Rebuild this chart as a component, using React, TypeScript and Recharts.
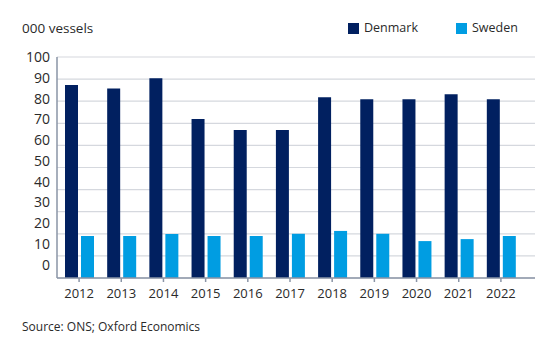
import { BarChart, Bar, XAxis, YAxis, CartesianGrid } from 'recharts';

const years = ['2012', '2013', '2014', '2015', '2016', '2017', '2018', '2019', '2020', '2021', '2022'];
const denmark = [87.3, 85.8, 90.4, 71.9, 67, 67, 81.8, 80.9, 80.9, 83.1, 80.9];
const sweden = [19, 19, 19.9, 19, 19, 20, 21.3, 20, 16.7, 17.6, 19];
const yTicks = [0, 10, 20, 30, 40, 50, 60, 70, 80, 90, 100];

const DENMARK_COLOR = '#012060';
const SWEDEN_COLOR = '#009de2';
const AXIS_COLOR = '#8a94a6';
const GRID_COLOR = '#d5d8de';
const TEXT_COLOR = '#2a2a2a';
const FONT = '"Open Sans", "Noto Sans", sans-serif';

const series = [
  { key: 'Denmark', color: DENMARK_COLOR },
  { key: 'Sweden', color: SWEDEN_COLOR },
];

const data = years.map((year, i) => ({ year, Denmark: denmark[i], Sweden: sweden[i] }));

const PLOT_TOP = 57;

// labels in the original sit slightly above their gridlines, more so toward the bottom
function YTick({ x, y, payload }: any) {
  const shifted = PLOT_TOP + (y - PLOT_TOP) * 0.94;
  return (
    <text x={x + 1} y={shifted} dy={5} textAnchor="end" fill={TEXT_COLOR} fontSize={14} fontFamily={FONT}>
      {payload.value}
    </text>
  );
}

function XTick({ x, y, payload }: any) {
  return (
    <text x={x} y={y} dy={14} textAnchor="middle" fill={TEXT_COLOR} fontSize={13} fontFamily={FONT}>
      {payload.value}
    </text>
  );
}

export default function App() {
  return (
    <div style={{ position: 'absolute', left: 0, top: 0, width: 555, height: 357, background: '#fff', fontFamily: FONT }}>
      <div style={{ position: 'absolute', left: 22, top: 19, fontSize: 13.5, color: TEXT_COLOR }}>000 vessels</div>
      <div style={{ position: 'absolute', left: 348, top: 19, display: 'flex', fontSize: 12.5, lineHeight: '18px', color: TEXT_COLOR }}>
        {series.map((s) => (
          <div key={s.key} style={{ display: 'flex', alignItems: 'center', marginRight: s.key === 'Denmark' ? 38 : 0 }}>
            <span style={{ width: 11, height: 11, background: s.color, display: 'inline-block', marginRight: 5 }} />
            {s.key}
          </div>
        ))}
      </div>
      <BarChart
        width={555}
        height={357}
        data={data}
        margin={{ top: PLOT_TOP, right: 20, bottom: 49, left: 0 }}
        barGap={3}
        barSize={13}
      >
        <CartesianGrid vertical={false} stroke={GRID_COLOR} strokeWidth={1.2} />
        <XAxis
          dataKey="year"
          height={30}
          padding={{ left: 1, right: 13 }}
          stroke={AXIS_COLOR}
          strokeWidth={1.5}
          tickSize={4}
          tickLine={{ stroke: AXIS_COLOR }}
          tick={<XTick />}
          interval={0}
        />
        <YAxis
          width={57}
          domain={[0, 100]}
          ticks={yTicks}
          stroke={AXIS_COLOR}
          strokeWidth={1.5}
          tickLine={false}
          tick={<YTick />}
          interval={0}
        />
        {series.map((s) => (
          <Bar key={s.key} dataKey={s.key} fill={s.color} isAnimationActive={false} />
        ))}
      </BarChart>
      <div style={{ position: 'absolute', left: 22, top: 318, fontSize: 12, color: TEXT_COLOR }}>Source: ONS; Oxford Economics</div>
    </div>
  );
}
